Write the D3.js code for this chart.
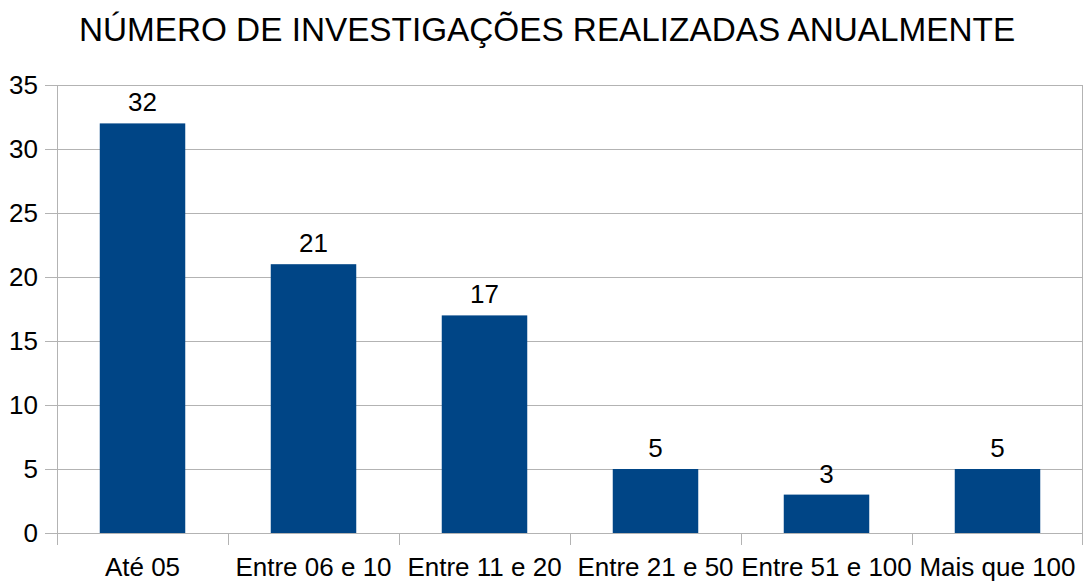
<!DOCTYPE html>
<html>
<head>
<meta charset="utf-8">
<style>
  body { margin: 0; background: #fff; }
  text { font-family: "Liberation Sans", Arial, sans-serif; fill: #000; }
</style>
</head>
<body>
<svg width="1086" height="582"></svg>
<script src="https://cdn.jsdelivr.net/npm/d3@7"></script>
<script>
var categories = ["Até 05", "Entre 06 e 10", "Entre 11 e 20", "Entre 21 e 50", "Entre 51 e 100", "Mais que 100"];
var values = [32, 21, 17, 5, 3, 5];
var yTicks = [0, 5, 10, 15, 20, 25, 30, 35];
var title = "NÚMERO DE INVESTIGAÇÕES REALIZADAS ANUALMENTE";

var svg = d3.select("svg"),
    margin = {top: 85, right: 3, bottom: 49, left: 57},
    width = +svg.attr("width") - margin.left - margin.right,
    height = +svg.attr("height") - margin.top - margin.bottom;

var x = d3.scaleBand().domain(categories).range([0, width]).paddingInner(0.5).paddingOuter(0.25);
var y = d3.scaleLinear().domain([0, 35]).range([height, 0]);

svg.append("text")
    .attr("x", 547).attr("y", 41)
    .attr("text-anchor", "middle")
    .style("font-size", "33.3px")
    .text(title);

var g = svg.append("g").attr("transform", "translate(" + margin.left + "," + margin.top + ")");

// grid lines
g.append("g").selectAll("line").data(yTicks).enter().append("line")
    .attr("x1", -12).attr("x2", width)
    .attr("y1", function(d) { return Math.round(y(d)) + 0.5; })
    .attr("y2", function(d) { return Math.round(y(d)) + 0.5; })
    .attr("stroke", "#b3b3b3").attr("stroke-width", 1);

// y axis line
g.append("line").attr("x1", 0.5).attr("x2", 0.5).attr("y1", 0).attr("y2", height + 12)
    .attr("stroke", "#b3b3b3");
// right border
g.append("line").attr("x1", width - 0.5).attr("x2", width - 0.5).attr("y1", 0).attr("y2", height + 12)
    .attr("stroke", "#b3b3b3");

// category tick marks
g.append("g").selectAll("line").data(categories.slice(1)).enter().append("line")
    .attr("x1", function(d) { return Math.round(x(d) - x.step() * 0.25) + 0.5; })
    .attr("x2", function(d) { return Math.round(x(d) - x.step() * 0.25) + 0.5; })
    .attr("y1", height).attr("y2", height + 12)
    .attr("stroke", "#b3b3b3");

// y tick labels
g.append("g").selectAll("text").data(yTicks).enter().append("text")
    .attr("x", -19).attr("y", function(d) { return y(d); })
    .attr("dy", "0.35em")
    .attr("text-anchor", "end")
    .style("font-size", "26px")
    .text(function(d) { return d; });

// bars
g.append("g").selectAll("rect").data(values).enter().append("rect")
    .attr("x", function(d, i) { return x(categories[i]); })
    .attr("y", function(d) { return y(d); })
    .attr("width", x.bandwidth())
    .attr("height", function(d) { return height - y(d); })
    .attr("fill", "#004586");

// value labels
g.append("g").selectAll("text").data(values).enter().append("text")
    .attr("x", function(d, i) { return x(categories[i]) + x.bandwidth() / 2; })
    .attr("y", function(d) { return y(d) - 12; })
    .attr("text-anchor", "middle")
    .style("font-size", "26px")
    .text(function(d) { return d; });

// category labels
g.append("g").selectAll("text").data(categories).enter().append("text")
    .attr("x", function(d) { return x(d) + x.bandwidth() / 2; })
    .attr("y", height + 43)
    .attr("text-anchor", "middle")
    .style("font-size", "26px")
    .text(function(d) { return d; });
</script>
</body>
</html>
